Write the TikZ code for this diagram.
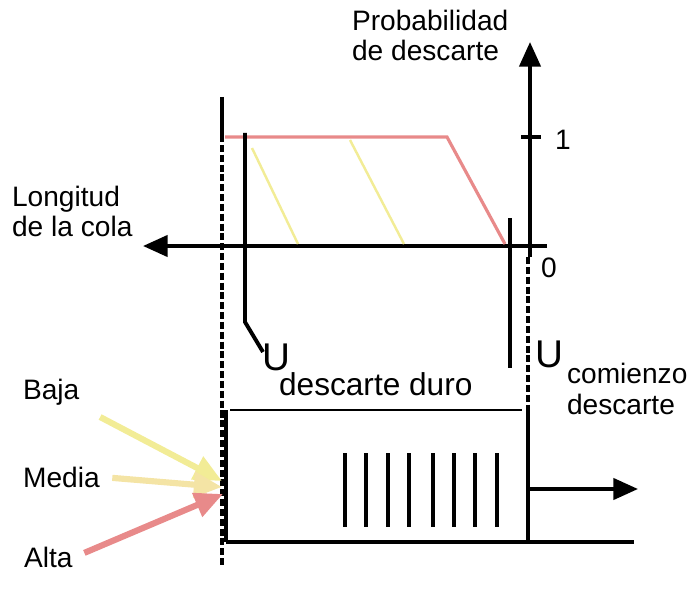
\documentclass[tikz,border=0pt]{standalone}
\usepackage{fontspec}
\setmainfont{Liberation Sans}
\usetikzlibrary{positioning,arrows.meta}

\definecolor{droppink}{RGB}{232,138,138}
\definecolor{hatchyellow}{RGB}{242,236,150}
\definecolor{midyellow}{RGB}{244,228,165}

\begin{document}
\begin{tikzpicture}[
        x=0.02cm,
        y=-0.02cm,
        every node/.style={font=\fontsize{16}{17}\selectfont, inner sep=1pt},
        axis/.style={
            line width=2.2pt,
            -{Triangle[length=14pt,width=12pt]}
        },
        solidline/.style={
            line width=2.2pt
        },
        guide/.style={
            line width=2.4pt,
            dash pattern=on 4pt off 1.6pt
        },
        drop/.style={
            draw=droppink,
            line width=1.8pt
        },
        hatch/.style={
            draw=hatchyellow,
            line width=1.4pt
        },
        pkt/.style={
            line width=2.8pt
        },
        prioarrow/.style={
            line width=3.5pt,
            -{Triangle[length=16pt,width=14pt]}
        },
        bigU/.style={
            font=\fontsize{22}{24}\selectfont
        },
        sub/.style={
            font=\fontsize{18}{20}\selectfont,
            align=left,
            anchor=north west
        }
    ]

    \useasboundingbox (0,0) rectangle (699,601);

    % axes
    \coordinate (ybottom) at (530,257);
    \coordinate (ytop) at (530,42);
    \coordinate (xright) at (547,246);
    \coordinate (xleft) at (143,246);
    \draw[axis] (ybottom) -- (ytop);
    \draw[axis] (xright) -- (xleft);
    \draw[solidline] (521,137) -- (541,137);

    \node[anchor=north west, align=left] (problabel) at (350,8)
    {Probabilidad\\de descarte};
    \node[anchor=north west, align=left] (lenlabel) at (10,184)
    {Longitud\\de la cola};
    \node (one) at (563,140) {1};
    \node (zero) at (549,268) {0};

    % drop curve
    \draw[drop] (225,137) -- (447,137) -- (505,244);
    \draw[hatch] (252,148) -- (298,244);
    \draw[hatch] (350,140) -- (404,244);

    % thresholds
    \draw[solidline] (222,97) -- (222,135);
    \draw[guide] (222,135) -- (222,566);
    \draw[solidline] (245,133) -- (245,322) -- (263,352);
    \draw[solidline] (510,218) -- (510,368);
    \draw[guide] (528,257) -- (528,412);

    \node[bigU] (uhard) at (276,357) {U};
    \node[sub] (uhardsub) at (277,370) {descarte duro};
    \node[bigU] (ustart) at (549,354) {U};
    \node[sub, font=\fontsize{16}{17.5}\selectfont] (ustartsub) at (565,361)
    {comienzo\\descarte};

    % queue
    \draw[line width=1.2pt] (230,410) -- (522,410);
    \draw[solidline] (226,410) -- (226,542);
    \draw[solidline] (226,542) -- (634,542);
    \draw[solidline] (528,412) -- (528,543);
    \foreach \x in {345,366,388,409,433,454,475,497}
        \draw[pkt] (\x,453) -- (\x,527);
    \coordinate (qout) at (528,489);
    \coordinate (qend) at (638,489);
    \draw[axis] (qout) -- (qend);

    % priorities
    \node[anchor=west] (baja) at (21,392) {Baja};
    \node[anchor=west] (media) at (21,477) {Media};
    \node[anchor=west] (alta) at (22,557) {Alta};

    \coordinate (inbaja) at (222,481);
    \coordinate (inmedia) at (222,487);
    \coordinate (inalta) at (223,494);

    \draw[prioarrow, hatchyellow, shorten <=12pt] (baja.south east) -- (inbaja);
    \draw[prioarrow, midyellow, shorten <=6pt] (media.east) -- (inmedia);
    \draw[prioarrow, droppink, shorten <=6pt] (alta.east) -- (inalta);

\end{tikzpicture}
\end{document}
